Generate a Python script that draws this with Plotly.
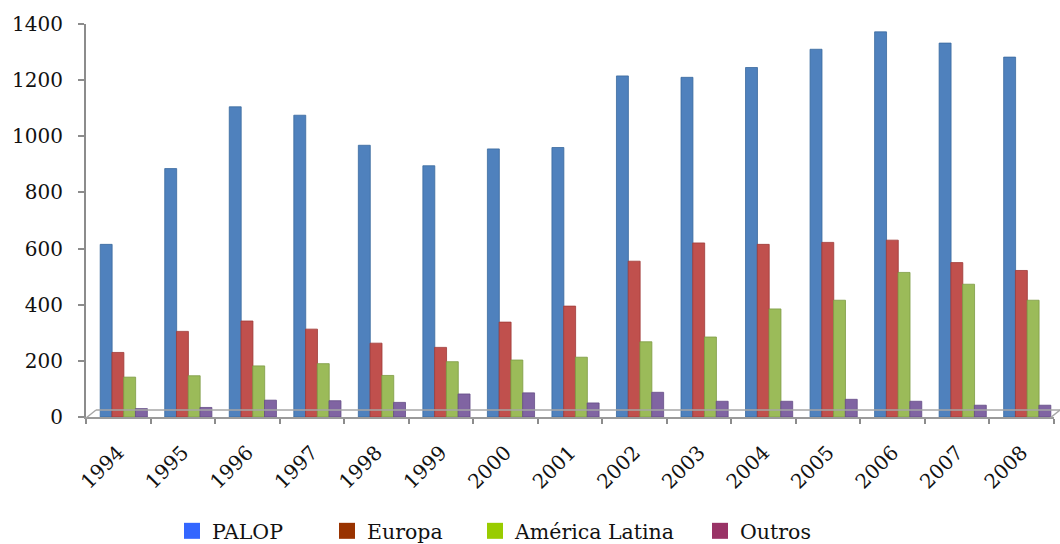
import plotly.graph_objects as go

# Annual figures by region of origin
years = ["1994", "1995", "1996", "1997", "1998", "1999", "2000", "2001",
         "2002", "2003", "2004", "2005", "2006", "2007", "2008"]
palop = [615, 885, 1105, 1075, 968, 895, 955, 960, 1215, 1210, 1245, 1310, 1372, 1332, 1282]
europa = [230, 305, 342, 313, 263, 248, 338, 395, 555, 620, 615, 622, 630, 550, 522]
america_latina = [142, 147, 182, 190, 148, 197, 203, 213, 268, 285, 385, 416, 515, 473, 416]
outros = [30, 34, 60, 58, 52, 82, 86, 50, 88, 56, 56, 63, 56, 42, 42]

series_names = ["PALOP", "Europa", "América Latina", "Outros"]
series_values = [palop, europa, america_latina, outros]

# bar fill / edge colours and the (different) legend swatch colours
bar_fill = ["#4F81BD", "#C0504D", "#9BBB59", "#8064A2"]
bar_edge = ["#3A6A9E", "#9E3A37", "#7E9C44", "#654C86"]
legend_fill = ["#3366FF", "#993300", "#99CC00", "#993366"]

W, H = 1060, 544
L, R, T, B = 86, 6, 24, 127
PW, PH = W - L - R, H - T - B

BAR_W = 0.185
offsets = [-0.28, -0.098, 0.084, 0.266]

FONT = "DejaVu Serif"

fig = go.Figure()
for name, vals, fc, ec, off in zip(series_names, series_values, bar_fill, bar_edge, offsets):
    fig.add_trace(go.Bar(
        x=years, y=vals, name=name, width=BAR_W, offset=off,
        marker=dict(color=fc, line=dict(color=ec, width=0.8)),
        showlegend=False,
    ))

# legend-only entries, one legend box each so they can be spaced freely
legend_text_x = [212, 367, 515, 740]
legend_ids = ["legend", "legend2", "legend3", "legend4"]
for name, col, lid in zip(series_names, legend_fill, legend_ids):
    fig.add_trace(go.Scatter(
        x=[None], y=[None], mode="markers", name=name,
        marker=dict(symbol="square", size=16, color=col),
        legend=lid, showlegend=True,
    ))

legend_common = dict(
    orientation="h", xref="container", yref="container",
    yanchor="middle", xanchor="left",
    font=dict(family=FONT, size=20.5, color="#111111"),
    bgcolor="rgba(0,0,0,0)", borderwidth=0,
)
legend_layout = {}
for lid, tx in zip(legend_ids, legend_text_x):
    legend_layout[lid] = dict(legend_common, x=(tx - 40) / W, y=1 - 531 / H)


def px(x):
    return (x - L) / PW


def py(y):
    return (H - B - y) / PH


# the floor of the chart: back edge and the two slanted ends
floor_col = "#A6A6A6"
shapes = [
    dict(type="line", xref="paper", yref="paper", x0=px(96), y0=py(410), x1=px(1060), y1=py(410),
         line=dict(color=floor_col, width=1.5)),
    dict(type="line", xref="paper", yref="paper", x0=px(86), y0=py(418), x1=px(96), y1=py(410),
         line=dict(color=floor_col, width=1.5)),
    dict(type="line", xref="paper", yref="paper", x0=px(1050), y0=py(418), x1=px(1060), y1=py(410),
         line=dict(color=floor_col, width=1.5)),
]

fig.update_layout(
    width=W, height=H,
    margin=dict(l=L, r=R, t=T, b=B, pad=0, autoexpand=False),
    paper_bgcolor="white", plot_bgcolor="white",
    barmode="overlay",
    shapes=shapes,
    **legend_layout,
)
fig.update_xaxes(
    type="category", range=[-0.5, 14.5], automargin=False,
    showgrid=False, zeroline=False,
    showline=True, linecolor="#9A9A9A", linewidth=2,
    ticks="outside", tickson="boundaries", ticklen=5, tickcolor="#8C8C8C", tickwidth=1.5,
    tickangle=-45,
    ticklabelstandoff=14,
    tickfont=dict(family=FONT, size=20, color="#111111"),
)
fig.update_yaxes(
    range=[0, 1400], dtick=200, automargin=False,
    showgrid=False, zeroline=False,
    showline=True, linecolor="#8C8C8C", linewidth=2,
    ticks="outside", ticklen=6, tickcolor="#8C8C8C", tickwidth=1.5,
    ticklabelstandoff=11,
    tickfont=dict(family=FONT, size=20, color="#111111"),
)

fig.write_html("out.html")
